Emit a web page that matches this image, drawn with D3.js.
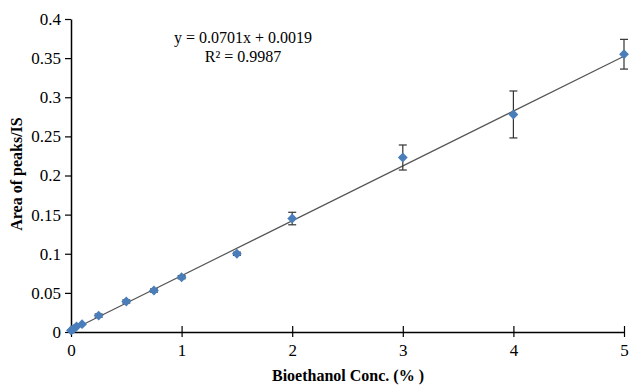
<!DOCTYPE html>
<html>
<head>
<meta charset="utf-8">
<script src="https://cdn.jsdelivr.net/npm/d3@7"></script>
<style>
  body { margin: 0; background: #fff; }
  svg text { font-family: "Times New Roman", "Liberation Serif", Times, serif !important; }
</style>
</head>
<body>
<div id="chart"></div>
<script>
// Data
const conc = [0, 0.01, 0.025, 0.05, 0.1, 0.25, 0.5, 0.75, 1, 1.5, 2, 3, 4, 5];
const area = [0.002, 0.003, 0.004, 0.007, 0.010, 0.021, 0.039, 0.053, 0.070, 0.100, 0.145, 0.223, 0.278, 0.355];
const errs = [0, 0, 0, 0, 0, 0.002, 0.002, 0.002, 0.002, 0.002, 0.008, 0.016, 0.030, 0.019];
const xTicks = [0, 1, 2, 3, 4, 5];
const yTicks = [0, 0.05, 0.1, 0.15, 0.2, 0.25, 0.3, 0.35, 0.4];
const slope = 0.0701, intercept = 0.0019;

const width = 629, height = 388;
const margin = { left: 71, right: 5, top: 19, bottom: 56 };

const svg = d3.select("#chart").append("svg")
  .attr("width", width)
  .attr("height", height);

const x = d3.scaleLinear().domain([0, 5]).range([margin.left, width - margin.right]);
const y = d3.scaleLinear().domain([0, 0.4]).range([height - margin.bottom, margin.top]);

// Y axis
const yAxis = svg.append("g")
  .attr("transform", `translate(${margin.left},0)`)
  .call(d3.axisLeft(y).tickValues(yTicks).tickSize(6).tickSizeOuter(0)
    .tickFormat(d => String(+d.toFixed(2))));
yAxis.select(".domain").attr("stroke", "#000").attr("stroke-width", 1.5);
yAxis.selectAll(".tick line").attr("stroke", "#000").attr("stroke-width", 1.2);
yAxis.selectAll(".tick text").attr("font-size", 17).attr("fill", "#000").attr("x", -10);

// X axis
const xAxis = svg.append("g")
  .attr("transform", `translate(0,${y(0)})`)
  .call(d3.axisBottom(x).tickValues(xTicks).tickSizeOuter(0).tickFormat(d3.format("d")));
xAxis.select(".domain").attr("stroke", "#000").attr("stroke-width", 1.5);
xAxis.selectAll(".tick line").attr("stroke", "#000").attr("stroke-width", 1.2)
  .attr("y1", -6).attr("y2", 5);
xAxis.selectAll(".tick text").attr("font-size", 17).attr("fill", "#000").attr("y", 12);

// Trend line
svg.append("line")
  .attr("x1", x(0)).attr("y1", y(intercept))
  .attr("x2", x(5)).attr("y2", y(slope * 5 + intercept))
  .attr("stroke", "#555").attr("stroke-width", 1.2);

// Error bars
const eb = svg.append("g").attr("stroke", "#333").attr("stroke-width", 1.2);
conc.forEach((c, i) => {
  if (errs[i] <= 0) return;
  const cx = x(c);
  eb.append("line").attr("x1", cx).attr("x2", cx)
    .attr("y1", y(area[i] - errs[i])).attr("y2", y(area[i] + errs[i]));
  [area[i] - errs[i], area[i] + errs[i]].forEach(v => {
    eb.append("line").attr("x1", cx - 4).attr("x2", cx + 4)
      .attr("y1", y(v)).attr("y2", y(v));
  });
});

// Diamond markers
svg.append("g").selectAll("path")
  .data(conc)
  .enter()
  .append("path")
  .attr("d", d3.symbol().type(d3.symbolDiamond2).size(62))
  .attr("transform", (d, i) => `translate(${x(d)},${y(area[i])})`)
  .attr("fill", "#4a7ebb");

// Equation
svg.append("text").attr("x", 243).attr("y", 43).attr("text-anchor", "middle")
  .attr("font-size", 16).text("y = 0.0701x + 0.0019");
svg.append("text").attr("x", 243).attr("y", 62).attr("text-anchor", "middle")
  .attr("font-size", 16).text("R² = 0.9987");

// Axis titles
svg.append("text").attr("x", 348).attr("y", 381).attr("text-anchor", "middle")
  .attr("font-size", 16).attr("font-weight", "bold").text("Bioethanol Conc. (% )");
svg.append("text").attr("transform", "translate(22,174) rotate(-90)")
  .attr("text-anchor", "middle").attr("font-size", 16).attr("font-weight", "bold")
  .text("Area of peaks/IS");
</script>
</body>
</html>
